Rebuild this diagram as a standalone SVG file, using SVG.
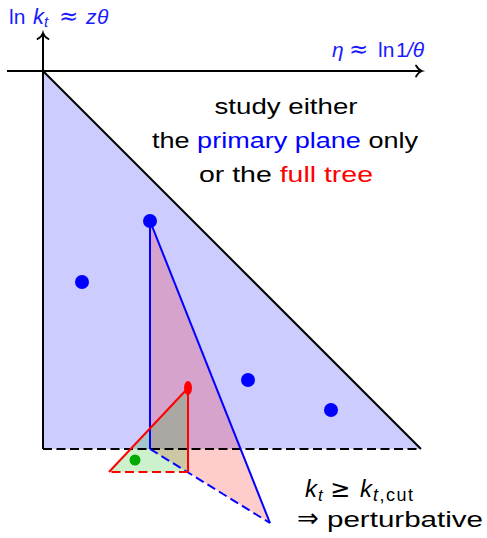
<svg xmlns="http://www.w3.org/2000/svg" width="487" height="538" viewBox="0 0 487 538">
<style>
text{font-family:"Liberation Sans",Arial,sans-serif;}
.body{font-size:22px;fill:#000;}
.lbl{font-size:21px;fill:#1a1aff;}
.it{font-style:italic;}
.sym{font-family:"DejaVu Sans",sans-serif;}
.blue{fill:#0000ff;}
.red{fill:#ff0000;}
.ax{stroke:#000;stroke-width:2;fill:none;}
.tip{stroke:#000;stroke-width:1.8;fill:none;stroke-linecap:round;}
.edge{stroke:#000;stroke-width:2;fill:none;}
.bl{stroke:#0000ff;stroke-width:2;fill:none;}
.rd{stroke:#ff0000;stroke-width:2;fill:none;}
.dash{stroke-dasharray:9 4.5;}
.dot{fill:#0000ff;}
</style>
<g id="primary-plane">
<polygon points="43,71 43,449 421,449" fill="#ccccff"/>
</g>
<g id="secondary-plane">
<polygon points="150,221 150,449 270,523" fill="#ff0000" fill-opacity="0.2"/>
</g>
<g id="tertiary-plane">
<polygon points="109,472 188,388 188,472" fill="#00bb00" fill-opacity="0.2"/>
</g>
<g id="connectors">
<line class="edge" x1="43" y1="71" x2="421" y2="449"/>
<line class="edge" x1="43" y1="71" x2="43" y2="449"/>
<line class="edge dash" x1="43" y1="449" x2="421" y2="449"/>
<line class="bl" x1="150" y1="221" x2="150" y2="449"/>
<line class="bl" x1="150" y1="221" x2="270" y2="523"/>
<line class="bl dash" x1="150" y1="449" x2="270" y2="523"/>
<line class="rd" x1="109" y1="472" x2="188" y2="388"/>
<line class="rd" x1="188" y1="388" x2="188" y2="472"/>
<line class="rd dash" x1="188" y1="472" x2="109" y2="472"/>
</g>
<g id="axes">
<line class="ax" x1="7" y1="71" x2="421" y2="71"/>
<path class="tip" d="M416,65.5 Q418.5,70 422,71 Q418.5,72 416,76.5"/>
<line class="ax" x1="43" y1="72" x2="43" y2="34"/>
<path class="tip" d="M37.5,39 Q42,36.5 43,33 Q44,36.5 48.5,39"/>
</g>
<g id="emissions">
<circle class="dot" cx="150" cy="221" r="7"/>
<circle class="dot" cx="82" cy="282" r="7"/>
<circle class="dot" cx="248" cy="380" r="7"/>
<circle class="dot" cx="331" cy="410" r="7"/>
<ellipse cx="188" cy="388" rx="4" ry="7" fill="#ff0000"/>
<circle cx="135" cy="460" r="5.5" fill="#00aa00"/>
</g>
<g id="y-label">
<text class="lbl" y="24"><tspan x="9">ln</tspan><tspan x="33" class="it" style="font-size:22px">k</tspan><tspan x="44" dy="3" class="it" style="font-size:15px">t</tspan><tspan x="59" dy="-3" class="sym" style="font-size:23px">≈</tspan><tspan x="86" class="it">z</tspan><tspan x="97" class="it">θ</tspan></text>
</g>
<g id="x-label">
<text class="lbl" y="57"><tspan x="332" class="it">η</tspan><tspan x="349" class="sym" style="font-size:23px">≈</tspan><tspan x="378">ln</tspan><tspan x="396">1</tspan><tspan x="407" class="it">/θ</tspan></text>
</g>
<g id="note">
<text class="body" x="286" y="114" text-anchor="middle" textLength="143" lengthAdjust="spacingAndGlyphs">study either</text>
<text class="body" x="285" y="148" text-anchor="middle" textLength="266" lengthAdjust="spacingAndGlyphs">the <tspan class="blue">primary plane</tspan> only</text>
<text class="body" x="286" y="182" text-anchor="middle" textLength="174" lengthAdjust="spacingAndGlyphs">or the <tspan class="red">full tree</tspan></text>
</g>
<g id="cut-note">
<text class="body" y="497" style="font-size:24px"><tspan x="305" class="it">k</tspan><tspan x="318" dy="4" class="it" style="font-size:17px">t</tspan><tspan x="330" dy="-4" class="sym">≥</tspan><tspan x="360" class="it">k</tspan><tspan x="373" dy="4" style="font-size:18px;letter-spacing:1.5px"><tspan class="it">t</tspan>,cut</tspan></text>
<text class="body" y="527"><tspan x="297" class="sym" style="font-size:26px">⇒</tspan><tspan x="327" textLength="156" lengthAdjust="spacingAndGlyphs">perturbative</tspan></text>
</g>
</svg>
